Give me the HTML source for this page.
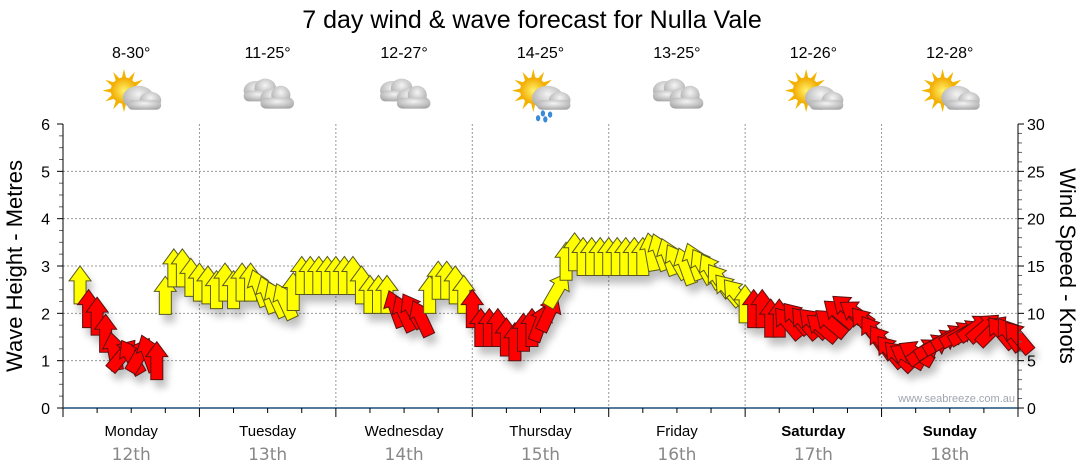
<!DOCTYPE html>
<html><head><meta charset="utf-8"><style>
body{margin:0;background:#fff;}
svg{display:block;font-family:"Liberation Sans",Arial,sans-serif;}
</style></head><body>
<svg id="c" width="1080" height="475" viewBox="0 0 1080 475">
<defs>
<filter id="sh" x="-50%" y="-50%" width="200%" height="200%"><feGaussianBlur stdDeviation="4"/></filter>
<radialGradient id="cl" cx="50%" cy="35%" r="65%"><stop offset="0" stop-color="#f4f4f4"/><stop offset="1" stop-color="#a8a8a8"/></radialGradient>
<radialGradient id="sun" cx="50%" cy="50%" r="50%"><stop offset="0" stop-color="#fff36a"/><stop offset="1" stop-color="#f2a900"/></radialGradient>
</defs>
<text x="532" y="28" font-size="25" text-anchor="middle" fill="#000">7 day wind &amp; wave forecast for Nulla Vale</text>
<g id="grid"></g><g id="icons"></g><g id="shadows" filter="url(#sh)" opacity="0.25"></g><g id="arrows"></g><g id="axes"></g>
<text x="1015" y="402" font-size="11" fill="#a0a4b0" text-anchor="end">www.seabreeze.com.au</text>
<text transform="translate(22,266) rotate(-90)" font-size="22" text-anchor="middle">Wave Height - Metres</text>
<text transform="translate(1060,266) rotate(90)" font-size="22" text-anchor="middle">Wind Speed - Knots</text>
</svg>
<script>
const days=["Monday","Tuesday","Wednesday","Thursday","Friday","Saturday","Sunday"];
const dates=["12th","13th","14th","15th","16th","17th","18th"];
const temps=["8-30°","11-25°","12-27°","14-25°","13-25°","12-26°","12-28°"];
const weather=["suncloud","cloud","cloud","rain","cloud","suncloud","suncloud"];
const waveTicks=[0,1,2,3,4,5,6];
const windTicks=[0,5,10,15,20,25,30];
const hours=[3,4.5,6,7.5,9,10.5,12,13.5,15,16.5,18,19.5,21,22.5,24,25.5,27,28.5,30,31.5,33,34.5,36,37.5,39,40.5,42,43.5,45,46.5,48,49.5,51,52.5,54,55.5,57,58.5,60,61.5,63,64.5,66,67.5,69,70.5,72,73.5,75,76.5,78,79.5,81,82.5,84,85.5,87,88.5,90,91.5,93,94.5,96,97.5,99,100.5,102,103.5,105,106.5,108,109.5,111,112.5,114,115.5,117,118.5,120,121.5,123,124.5,126,127.5,129,130.5,132,133.5,135,136.5,138,139.5,141,142.5,144,145.5,147,148.5,150,151.5,153,154.5,156,157.5,159,160.5,162,163.5,165,166.5,168];
const windSpeed=[13,10.5,9.7,7.9,6,5.6,5.4,5.6,5.8,5,11.9,14.8,14.8,13.8,13.3,13,12.5,13.3,12.5,13.3,13.3,12.7,12,11.5,11.3,12.3,14,14,14,14,14,14,14,13,12,12,12,10.5,10,10.3,9.5,12,13.5,13.5,13,12,10.5,8.5,8.5,8.5,7.5,7,8,8.5,9,10,12.5,15.5,16.5,16,16,16,16,16,16,16,16,16.5,16.5,16,15.5,15,15.5,15,14.5,13.5,12.5,12,11,10.5,10.5,9.5,9.5,9,9.5,9,9,8.5,9,10,10.5,10,9,8,7,6,5.5,5.5,5.8,6,6.5,7,7.5,7.8,8,8.5,8.5,8.2,8,7.8,7.5];
const windDir=[0,0,0,0,-10,40,-30,30,-20,0,0,0,0,0,0,0,0,0,0,0,0,-20,-20,-25,-25,0,0,0,0,0,0,0,0,0,0,0,0,-20,-25,-30,-25,0,0,0,0,0,0,0,0,0,0,0,0,0,20,25,30,0,0,0,0,0,0,0,0,0,0,-10,-20,-20,-30,-20,-20,-30,-30,-35,-40,-40,0,0,0,0,0,-40,-40,-40,-45,-50,-50,-50,-50,-55,-40,-35,-35,-40,-45,-60,-60,55,60,60,60,60,60,55,50,45,-40,-35,-40,-40,-45];
const strong=[0,1,1,1,1,1,1,1,1,1,0,0,0,0,0,0,0,0,0,0,0,0,0,0,0,0,0,0,0,0,0,0,0,0,0,0,0,1,1,1,1,0,0,0,0,0,1,1,1,1,1,1,1,1,1,1,0,0,0,0,0,0,0,0,0,0,0,0,0,0,0,0,0,0,0,0,0,0,0,1,1,1,1,1,1,1,1,1,1,1,1,1,1,1,1,1,1,1,1,1,1,1,1,1,1,1,1,1,1,1,1];

const NS="http://www.w3.org/2000/svg";
const X0=63,X1=1018,Y0=408,Y1=124;
const xH=h=>X0+(X1-X0)*h/168;
const yWave=v=>Y0-(Y0-Y1)*v/6;
const yWind=v=>Y0-(Y0-Y1)*v/30;
function mk(tag,attrs,parent){const e=document.createElementNS(NS,tag);for(const k in attrs)e.setAttribute(k,attrs[k]);parent.appendChild(e);return e;}
const grid=document.getElementById('grid'),axes=document.getElementById('axes'),icons=document.getElementById('icons'),arrows=document.getElementById('arrows'),shadows=document.getElementById('shadows');

waveTicks.forEach((v,i)=>{
  const y=yWave(v);
  if(v>0&&v<6){const g=mk('line',{x1:X0,x2:X1,y1:y,y2:y,stroke:'#999','stroke-dasharray':'2,2','stroke-width':1},grid);
  
  }
  const t=mk('text',{x:50,y:y+6,'font-size':16,'text-anchor':'end'},axes);t.textContent=v;
  
  
  mk('line',{x1:X0-6,x2:X0,y1:y,y2:y,stroke:'#000'},axes);
  if(i<6)for(let k=1;k<4;k++){const yy=y-(Y0-Y1)/6*k/4;mk('line',{x1:X0-4,x2:X0,y1:yy,y2:yy,stroke:'#666'},axes);}
});
windTicks.forEach((v,i)=>{
  const y=yWind(v);
  const t=mk('text',{x:1027,y:y+6,'font-size':16},axes);t.textContent=v;
  
  
  mk('line',{x1:X1,x2:X1+6,y1:y,y2:y,stroke:'#000'},axes);
  if(i<6)for(let k=1;k<5;k++){const yy=y-(Y0-Y1)/6*k/5;mk('line',{x1:X1,x2:X1+4,y1:yy,y2:yy,stroke:'#666'},axes);}
});
mk('line',{x1:X0,x2:X0,y1:Y1,y2:Y0,stroke:'#000'},axes);
mk('line',{x1:X1,x2:X1,y1:Y1,y2:Y0,stroke:'#000'},axes);
mk('line',{x1:X0,x2:X1,y1:Y0,y2:Y0,stroke:'#1d4f7a','stroke-width':1.5},axes);
for(let h=0;h<=168;h+=6){const x=xH(h);mk('line',{x1:x,x2:x,y1:Y0,y2:Y0+(h%24?5:9),stroke:'#000'},axes);
  if(h%24===0&&h>0&&h<168)mk('line',{x1:x,x2:x,y1:Y1,y2:Y0,stroke:'#999','stroke-dasharray':'2,2'},grid);}

days.forEach((d,i)=>{
  const cx=xH(24*i+12);
  const t=mk('text',{x:cx,y:436,'font-size':15,'text-anchor':'middle','font-weight':i>=5?'bold':'normal'},axes);t.textContent=d;
  
  
  const t2=mk('text',{x:cx,y:460,'font-size':17,'text-anchor':'middle',fill:'#888','font-family':'DejaVu Sans'},axes);t2.textContent=dates[i];
  
  
  const t3=mk('text',{x:cx,y:58,'font-size':16,'text-anchor':'middle'},icons);t3.textContent=temps[i];
  
  
  const g=mk('g',{transform:`translate(${cx},93) scale(1.2)`},icons);
  
  
  const w=weather[i];
  if(w!=='cloud'){
    for(let a=0;a<360;a+=30){const r=a*Math.PI/180;mk('polygon',{points:`${-6+18*Math.cos(r)},${-2+18*Math.sin(r)} ${-6+10*Math.cos(r+0.2)},${-2+10*Math.sin(r+0.2)} ${-6+10*Math.cos(r-0.2)},${-2+10*Math.sin(r-0.2)}`,fill:'#f3b400'},g);}
    mk('circle',{cx:-6,cy:-2,r:11,fill:'url(#sun)'},g);
    mk('ellipse',{cx:6,cy:4,rx:13,ry:10,fill:'url(#cl)'},g);
    mk('ellipse',{cx:16,cy:6,rx:9,ry:7,fill:'url(#cl)'},g);
    mk('rect',{x:-3,y:6,width:28,height:8,rx:4,fill:'url(#cl)'},g);
  } else {
    mk('ellipse',{cx:-10,cy:-2,rx:10,ry:8,fill:'url(#cl)'},g);
    mk('ellipse',{cx:-2,cy:-4,rx:9,ry:8,fill:'url(#cl)'},g);
    mk('rect',{x:-20,y:-2,width:24,height:9,rx:4.5,fill:'url(#cl)'},g);
    mk('ellipse',{cx:4,cy:4,rx:10,ry:8,fill:'url(#cl)'},g);
    mk('ellipse',{cx:11,cy:2,rx:8,ry:8,fill:'url(#cl)'},g);
    mk('rect',{x:-6,y:4,width:28,height:9,rx:4.5,fill:'url(#cl)'},g);
  }
  if(w==='rain'){[[2,17],[8,18],[-2,21],[4,22]].forEach(p=>mk('ellipse',{cx:p[0],cy:p[1],rx:1.8,ry:2.6,fill:'#3a8ad8'},g));}
});

const ARROW="0,-19 11,-4 6,-4 6,19 -6,19 -6,-4 -11,-4";
hours.forEach((h,i)=>{
  const x=xH(h),y=yWind(windSpeed[i]);
  const s=mk('polygon',{points:ARROW,fill:'#000',transform:`translate(${x+4},${y+8}) rotate(${windDir[i]})`},shadows);
  
  
  const a=mk('polygon',{points:ARROW,fill:strong[i]?'#ff0000':'#ffff00',stroke:strong[i]?'#5a1010':'#5a5a20','stroke-width':1,transform:`translate(${x},${y}) rotate(${windDir[i]})`},arrows);
  
  
});
</script>
</body></html>
